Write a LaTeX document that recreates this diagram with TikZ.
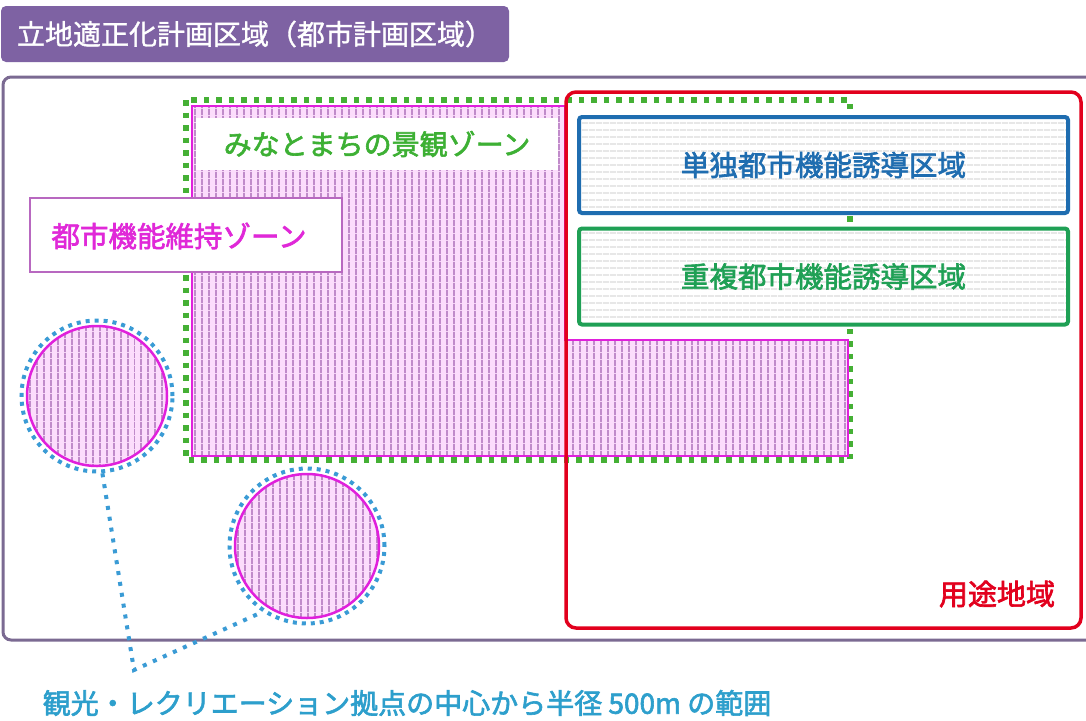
\documentclass[tikz,border=0pt]{standalone}
\usepackage{fontspec}
\newfontfamily\jp{Noto Sans CJK JP}[FakeBold=1.2]
\newfontfamily\jpm{Noto Sans CJK JP}[FakeBold=2.2]
\usetikzlibrary{patterns.meta}
\definecolor{titlepurple}{HTML}{7E62A3}
\definecolor{framepurple}{HTML}{7B6A92}
\definecolor{youtored}{HTML}{E2001D}
\definecolor{boxblue}{HTML}{1F6DB0}
\definecolor{boxgreen}{HTML}{1FA055}
\definecolor{dotgreen}{HTML}{45B035}
\definecolor{magline}{HTML}{E020DC}
\definecolor{pinkfill}{HTML}{FCDDFC}
\definecolor{hatchc}{HTML}{A060B0}
\definecolor{ringblue}{HTML}{3A9BD5}
\definecolor{captionblue}{HTML}{2D9FCC}
\definecolor{ijiborder}{HTML}{B868C0}
\definecolor{ijitext}{HTML}{E028D8}
\definecolor{minatotext}{HTML}{3DB034}
\definecolor{stripe}{HTML}{BDBDBD}
\begin{document}
\begin{tikzpicture}[x=1pt,y=-1pt,
  jpfont/.style={font=\jp\fontsize{#1}{#1}\selectfont},
  jpbold/.style={font=\jpm\fontsize{#1}{#1}\selectfont},
  pinkhatch/.style={draw=magline, line width=2.5pt, preaction={fill=pinkfill},
    pattern={Lines[angle=90,distance=6.5pt,line width=1.3pt]}, pattern color=hatchc},
  stripebox/.style={rectangle, rounded corners=3pt, line width=4pt, preaction={fill=white},
    pattern={Lines[angle=0,distance=6.5pt,line width=0.9pt]}, pattern color=stripe,
    minimum width=489pt, minimum height=96pt, inner sep=0pt, jpbold=28.5},
  greendot/.style={draw=dotgreen, line width=5.5pt, dash pattern=on 5.5pt off 7pt},
  bluering/.style={circle, draw=ringblue, line width=4pt, dash pattern=on 4pt off 5pt, inner sep=0pt},
  bluedot/.style={draw=ringblue, line width=4pt, dash pattern=on 4pt off 7pt},
  pinkcircle/.style={circle, pinkhatch, inner sep=0pt}
]
\useasboundingbox[fill=white] (0,0) rectangle (1086,720);

% title
\node[fill=titlepurple, rounded corners=5pt, minimum width=508pt, minimum height=56pt,
  text=white, jpfont=28, inner sep=0pt] (title) at (255,34) {立地適正化計画区域（都市計画区域）};

% outer frame
\draw[framepurple, line width=3pt, rounded corners=8pt] (3,77) rectangle (1100,640);

% green dotted zone
\draw[greendot] (186,100) rectangle (850,460);

% pink hatched zone
\path[pinkhatch] (192,106) -- (565,106) -- (565,340) -- (848,340) -- (848,456) -- (192,456) -- cycle;

% minato label
\node[fill=white, minimum width=362pt, minimum height=52pt, inner sep=0pt,
  text=minatotext, jpbold=28] (minato) at (377,144) {みなとまちの景観ゾーン};

% red youto area
\draw[youtored, line width=3.5pt, rounded corners=10pt] (566,92) rectangle (1081,628);
\node[text=youtored, jpbold=29] (youto) at (997,594) {用途地域};

% blue / green boxes
\node[stripebox, draw=boxblue, text=boxblue] (tandoku) at (823.5,165) {単独都市機能誘導区域};
\node[stripebox, draw=boxgreen, text=boxgreen] (choufuku) at (823.5,276.5) {重複都市機能誘導区域};

% iji box
\node[draw=ijiborder, line width=1.2pt, fill=white, minimum width=312pt, minimum height=74pt,
  inner sep=0pt] (iji) at (186,235) {};
\node[text=ijitext, jpbold=28.5] (ijilabel) at (179,236) {都市機能維持ゾーン};

% circles
\node[bluering, minimum size=151pt] (r1) at (97,396) {};
\node[pinkcircle, minimum size=140pt] (c1) at (97,396) {};
\node[bluering, minimum size=155pt] (r2) at (307,546) {};
\node[pinkcircle, minimum size=144pt] (c2) at (307,546) {};

% connector
\coordinate (bend) at (134,670);
\draw[bluedot] (r1.-86) -- (bend) -- (r2.-124);

% caption
\node[text=captionblue, jpbold=28] (caption) at (407,703) {観光・レクリエーション拠点の中心から半径 500m の範囲};
\end{tikzpicture}
\end{document}
